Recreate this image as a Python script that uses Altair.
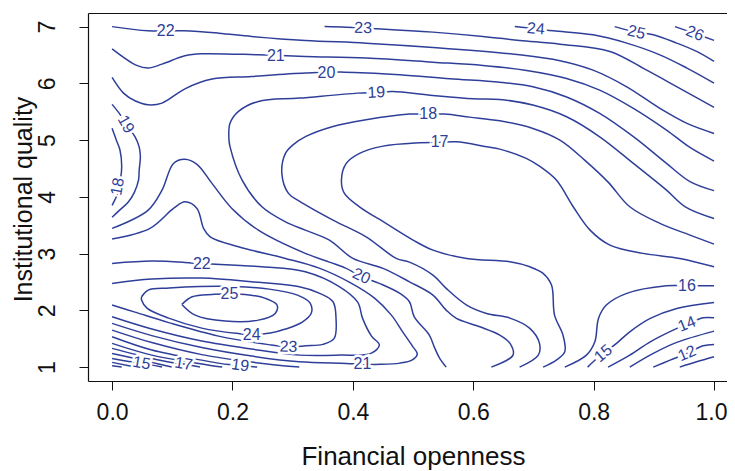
import altair as alt
import pandas as pd

BLUE = "#2F3F99"
FONT = "Liberation Sans"

# ---- contour lines: (financial openness, institutional quality)
c26 = [(0.935, 7.0), (0.968, 6.88), (1.0, 6.757)]
c25 = [(0.835, 7.0), (0.871, 6.90), (0.899, 6.856), (0.938, 6.709), (0.971, 6.563), (1.0, 6.387)]
c24 = [(0.669, 7.0), (0.704, 6.963), (0.733, 6.926), (0.799, 6.855), (0.855, 6.709), (0.910, 6.503),
       (0.955, 6.269), (1.0, 6.004)]
c23 = [(0.353, 7.0), (0.389, 6.99), (0.447, 6.96), (0.533, 6.903), (0.616, 6.827), (0.677, 6.757),
       (0.744, 6.69), (0.827, 6.563), (0.885, 6.25), (0.94, 5.93), (1.0, 5.576)]
c22_top = [(0.0, 7.0), (0.060, 6.926), (0.119, 6.926), (0.177, 6.885), (0.232, 6.827), (0.321, 6.757),
           (0.422, 6.709), (0.533, 6.633), (0.677, 6.503), (0.744, 6.40), (0.799, 6.233), (0.855, 5.939),
           (0.910, 5.559), (0.955, 5.294), (1.0, 5.118)]
c21_top = [(0.0, 6.609), (0.041, 6.316), (0.060, 6.269), (0.083, 6.339), (0.121, 6.485), (0.149, 6.521),
           (0.243, 6.503), (0.321, 6.475), (0.422, 6.445), (0.533, 6.374), (0.616, 6.316), (0.686, 6.233),
           (0.755, 6.087), (0.810, 5.881), (0.866, 5.559), (0.921, 5.176), (0.96, 4.87), (1.0, 4.63)]
c20_top = [(0.0, 6.105), (0.019, 5.828), (0.038, 5.693), (0.060, 5.622), (0.083, 5.652), (0.121, 5.904),
           (0.166, 6.075), (0.232, 6.122), (0.321, 6.181), (0.386, 6.198), (0.478, 6.152), (0.561, 6.08),
           (0.644, 6.02), (0.699, 5.94), (0.755, 5.76), (0.810, 5.47), (0.866, 5.06), (0.921, 4.59),
           (0.96, 4.27), (1.0, 4.11)]
c19_left = [(0.0, 5.63), (0.012, 5.47), (0.023, 5.28), (0.038, 5.06), (0.045, 4.88), (0.047, 4.71),
            (0.045, 4.47), (0.044, 4.30), (0.037, 4.08), (0.027, 3.91), (0.013, 3.77), (0.0, 3.64)]
c18_left = [(0.0, 5.21), (0.007, 5.0), (0.013, 4.83), (0.016, 4.54), (0.014, 4.31), (0.008, 4.03), (0.0, 3.85)]
c19_main = [(1.0, 3.62), (0.953, 3.82), (0.921, 4.119), (0.866, 4.589), (0.810, 5.058), (0.755, 5.411),
            (0.699, 5.617), (0.644, 5.717), (0.600, 5.73), (0.533, 5.788), (0.466, 5.858), (0.439, 5.84),
            (0.408, 5.828), (0.311, 5.740), (0.243, 5.682), (0.210, 5.506), (0.196, 5.300), (0.194, 5.035),
            (0.196, 4.882), (0.216, 4.295), (0.249, 3.825), (0.288, 3.560), (0.321, 3.414), (0.361, 3.238),
            (0.400, 2.915), (0.450, 2.739), (0.494, 2.503), (0.533, 2.269), (0.555, 2.004), (0.572, 1.858),
            (0.611, 1.710), (0.644, 1.564), (0.661, 1.418), (0.666, 1.211), (0.630, 1.0)]
c18_main = [(1.0, 3.167), (0.960, 3.326), (0.910, 3.532), (0.860, 3.825), (0.824, 4.260), (0.785, 4.648),
            (0.744, 5.0), (0.699, 5.206), (0.644, 5.340), (0.594, 5.405), (0.552, 5.458), (0.525, 5.458),
            (0.494, 5.458), (0.422, 5.358), (0.367, 5.241), (0.322, 5.065), (0.300, 4.912), (0.288, 4.766),
            (0.282, 4.413), (0.293, 4.061), (0.311, 3.925), (0.367, 3.590), (0.422, 3.296), (0.472, 2.915),
            (0.494, 2.850), (0.533, 2.621), (0.555, 2.387), (0.589, 2.093), (0.622, 1.946), (0.661, 1.863),
            (0.694, 1.682), (0.710, 1.418), (0.708, 1.211), (0.677, 1.0)]
c17 = [(1.0, 2.767), (0.943, 2.915), (0.882, 3.004), (0.827, 3.150), (0.794, 3.414), (0.766, 3.825),
       (0.738, 4.295), (0.710, 4.54), (0.688, 4.678), (0.644, 4.841), (0.622, 4.882), (0.572, 4.970),
       (0.544, 4.96), (0.511, 4.952), (0.450, 4.894), (0.411, 4.766), (0.389, 4.589), (0.381, 4.295),
       (0.386, 4.061), (0.411, 3.825), (0.455, 3.532), (0.500, 3.238), (0.533, 3.062), (0.589, 2.915),
       (0.661, 2.855), (0.694, 2.767), (0.716, 2.651), (0.730, 2.445), (0.735, 1.916), (0.749, 1.564),
       (0.752, 1.270), (0.738, 1.123), (0.716, 1.0)]
c16 = [(0.752, 1.0), (0.788, 1.211), (0.802, 1.446), (0.808, 1.858), (0.821, 2.093), (0.855, 2.299),
       (0.921, 2.433), (0.955, 2.433), (1.0, 2.433)]
c15_right = [(0.790, 1.0), (0.802, 1.12), (0.816, 1.241), (0.838, 1.418), (0.860, 1.622), (0.894, 1.858),
             (0.938, 2.034), (1.0, 2.140)]
c14 = [(0.824, 1.0), (0.860, 1.211), (0.894, 1.446), (0.932, 1.652), (0.955, 1.758), (0.982, 1.869), (1.0, 1.869)]
c13 = [(0.860, 1.0), (0.899, 1.241), (0.938, 1.435), (1.0, 1.634)]
c12 = [(0.899, 1.0), (0.927, 1.123), (0.955, 1.241), (0.982, 1.375), (1.0, 1.40)]
c11 = [(0.943, 1.0), (0.971, 1.093), (1.0, 1.181)]
c22_u = [(0.0, 2.827), (0.066, 2.868), (0.121, 2.845), (0.149, 2.82), (0.180, 2.810), (0.249, 2.767),
         (0.321, 2.679), (0.378, 2.415), (0.408, 2.145), (0.416, 1.863), (0.431, 1.546), (0.444, 1.388),
         (0.430, 1.241), (0.378, 1.211), (0.311, 1.211), (0.232, 1.317), (0.149, 1.458), (0.066, 1.670),
         (0.0, 1.886)]
c21_u = [(0.0, 3.256), (0.063, 3.444), (0.102, 3.796), (0.121, 3.913), (0.141, 3.796), (0.152, 3.444),
         (0.163, 3.296), (0.210, 3.120), (0.288, 2.915), (0.344, 2.744), (0.394, 2.498), (0.436, 2.216),
         (0.464, 1.916), (0.483, 1.617), (0.499, 1.370), (0.507, 1.229), (0.498, 1.123), (0.478, 1.070),
         (0.447, 1.048), (0.416, 1.05), (0.389, 1.065), (0.311, 1.093), (0.232, 1.194), (0.149, 1.344),
         (0.066, 1.555), (0.0, 1.770)]
c20_main = [(0.0, 3.444), (0.060, 3.767), (0.083, 4.119), (0.102, 4.589), (0.121, 4.661), (0.141, 4.572),
            (0.166, 4.237), (0.199, 3.796), (0.243, 3.414), (0.321, 3.004), (0.361, 2.850), (0.388, 2.744),
            (0.414, 2.60), (0.444, 2.475), (0.478, 2.299), (0.494, 2.151), (0.502, 1.886), (0.527, 1.564),
            (0.536, 1.335), (0.544, 1.159), (0.555, 1.0)]
c20_bl = [(0.0, 1.652), (0.066, 1.432), (0.149, 1.220), (0.232, 1.088), (0.311, 1.0)]
c19_bl = [(0.0, 1.534), (0.066, 1.300), (0.149, 1.123), (0.194, 1.044), (0.213, 1.03), (0.241, 1.0)]
c18_bl = [(0.0, 1.418), (0.066, 1.211), (0.144, 1.065), (0.183, 1.0)]
c17_bl = [(0.0, 1.330), (0.066, 1.153), (0.099, 1.083), (0.119, 1.056), (0.146, 1.0)]
c16_bl = [(0.0, 1.241), (0.066, 1.083), (0.099, 1.0)]
c15_bl = [(0.0, 1.153), (0.033, 1.093), (0.049, 1.07), (0.083, 1.0)]
c14_bl = [(0.0, 1.083), (0.038, 1.0)]
c13_bl = [(0.0, 1.023), (0.016, 1.0)]
c23_u = [(0.0, 2.475), (0.066, 2.551), (0.149, 2.568), (0.232, 2.503), (0.311, 2.415), (0.344, 2.304),
         (0.367, 2.151), (0.372, 1.858), (0.369, 1.506), (0.350, 1.400), (0.322, 1.375), (0.293, 1.358),
         (0.260, 1.396), (0.177, 1.546), (0.094, 1.784), (0.038, 1.969), (0.0, 2.093)]
c24_loop = [(0.049, 2.239), (0.060, 2.357), (0.095, 2.392), (0.145, 2.419), (0.203, 2.419), (0.261, 2.374),
            (0.308, 2.269), (0.329, 2.128), (0.331, 1.952), (0.316, 1.793), (0.288, 1.670), (0.263, 1.599),
            (0.232, 1.573), (0.210, 1.590), (0.149, 1.687), (0.094, 1.863), (0.058, 2.040), (0.049, 2.181),
            (0.049, 2.239)]
c25_loop = [(0.116, 2.105), (0.133, 2.239), (0.166, 2.281), (0.195, 2.286), (0.221, 2.281), (0.255, 2.211),
            (0.274, 2.093), (0.271, 1.946), (0.243, 1.828), (0.188, 1.811), (0.138, 1.916), (0.116, 2.105)]

contour_lines = [
    ("26", c26), ("25", c25), ("24", c24), ("23", c23), ("22", c22_top), ("21", c21_top),
    ("20", c20_top), ("19", c19_left), ("18", c18_left), ("19", c19_main), ("18", c18_main),
    ("17", c17), ("16", c16), ("15", c15_right), ("14", c14), ("13", c13), ("12", c12), ("11", c11),
    ("22", c22_u), ("21", c21_u), ("20", c20_main), ("20", c20_bl), ("19", c19_bl), ("18", c18_bl),
    ("17", c17_bl), ("16", c16_bl), ("15", c15_bl), ("14", c14_bl), ("13", c13_bl),
    ("23", c23_u), ("24", c24_loop), ("25", c25_loop),
]

# ---- contour labels
label_text = ["22", "23", "24", "25", "26", "21", "20", "19", "18", "17", "19", "18",
              "22", "25", "24", "23", "20", "21", "19", "17", "15", "16", "15", "14", "12"]
label_x = [0.089, 0.417, 0.704, 0.871, 0.968, 0.272, 0.356, 0.439, 0.525, 0.544, 0.023, 0.009,
           0.149, 0.195, 0.232, 0.293, 0.414, 0.416, 0.213, 0.119, 0.049, 0.955, 0.816, 0.955, 0.955]
label_y = [6.926, 6.975, 6.963, 6.90, 6.88, 6.49, 6.19, 5.84, 5.458, 4.96, 5.28, 4.18,
           2.82, 2.286, 1.573, 1.358, 2.60, 1.05, 1.03, 1.056, 1.07, 2.433, 1.241, 1.758, 1.241]
label_angle = [0, 2, 5, 14, 22, 0, 0, 357, 0, 0, 60, 280,
               0, 0, 0, 2, 25, 0, 8, 10, 10, 0, 320, 338, 337]

x_ticks = [0.0, 0.2, 0.4, 0.6, 0.8, 1.0]
y_ticks = [1, 2, 3, 4, 5, 6, 7]

rows = []
for lid, (lvl, pts) in enumerate(contour_lines):
    for i, (x, y) in enumerate(pts):
        rows.append({"line": lid, "level": lvl, "i": i, "x": x, "y": y})
df = pd.DataFrame(rows)
labels = pd.DataFrame({"t": label_text, "x": label_x, "y": label_y, "a": label_angle})

xscale = alt.Scale(domain=[-0.04, 1.0215], nice=False, zero=False)
yscale = alt.Scale(domain=[0.755, 7.24], nice=False, zero=False)

x_axis = alt.Axis(values=x_ticks, format=".1f", grid=False, domain=True, domainColor="#111",
                  domainWidth=1.2, ticks=True, tickSize=9, tickColor="#111", tickWidth=1,
                  labelFont=FONT, labelFontSize=23, labelColor="#111", labelPadding=11,
                  labelBaseline="top", labelFlush=False, labelOverlap=False,
                  labelOffset=alt.condition("datum.value == 1", alt.value(-3), alt.value(0)),
                  title="Financial openness", titleFont=FONT, titleFontSize=26,
                  titleFontWeight="normal", titleColor="#111", titleBaseline="alphabetic",
                  titleX=325, titleY=83)
y_axis = alt.Axis(values=y_ticks, format="d", grid=False, domain=True, domainColor="#111",
                  domainWidth=1.2, ticks=True, tickSize=9, tickColor="#111", tickWidth=1,
                  labelFont=FONT, labelFontSize=23, labelColor="#111", labelPadding=25,
                  labelAngle=270, labelAlign="center", labelBaseline="alphabetic",
                  labelFlush=False, labelOverlap=False,
                  title="Institutional quality", titleFont=FONT, titleFontSize=25,
                  titleFontWeight="normal", titleColor="#111", titleAngle=270,
                  titleBaseline="alphabetic", titleAlign="center", titleX=-57, titleY=186)

lines = alt.Chart(df).mark_line(color=BLUE, strokeWidth=1.5, interpolate="catmull-rom").encode(
    x=alt.X("x:Q", scale=xscale, axis=x_axis),
    y=alt.Y("y:Q", scale=yscale, axis=y_axis),
    detail="line:N",
    order="i:Q",
)

halo = alt.Chart(labels).mark_text(font=FONT, fontSize=16, color="white", stroke="white",
                                   strokeWidth=5, align="center", baseline="middle").encode(
    x=alt.X("x:Q", scale=xscale, axis=None),
    y=alt.Y("y:Q", scale=yscale, axis=None),
    text="t:N",
    angle=alt.Angle("a:Q", scale=None),
)
texts = alt.Chart(labels).mark_text(font=FONT, fontSize=16, color=BLUE, align="center",
                                    baseline="middle").encode(
    x=alt.X("x:Q", scale=xscale, axis=None),
    y=alt.Y("y:Q", scale=yscale, axis=None),
    text="t:N",
    angle=alt.Angle("a:Q", scale=None),
)
top_frame = alt.Chart(labels).mark_point(opacity=0).encode(
    x=alt.X("x:Q", scale=xscale,
            axis=alt.Axis(orient="top", labels=False, ticks=False, title=None, grid=False,
                          domain=True, domainColor="#111", domainWidth=1.2)),
    y=alt.Y("y:Q", scale=yscale, axis=None),
)

chart = alt.layer(lines, halo, texts, top_frame).resolve_axis(
    x="independent", y="independent"
).properties(
    width=639, height=368,
    padding={"left": 80, "top": 5, "right": 0, "bottom": 90},
    autosize=alt.AutoSizeParams(type="none"),
).configure_view(stroke=None)

chart.save("out.html", embed_options={"renderer": "svg", "actions": False})
